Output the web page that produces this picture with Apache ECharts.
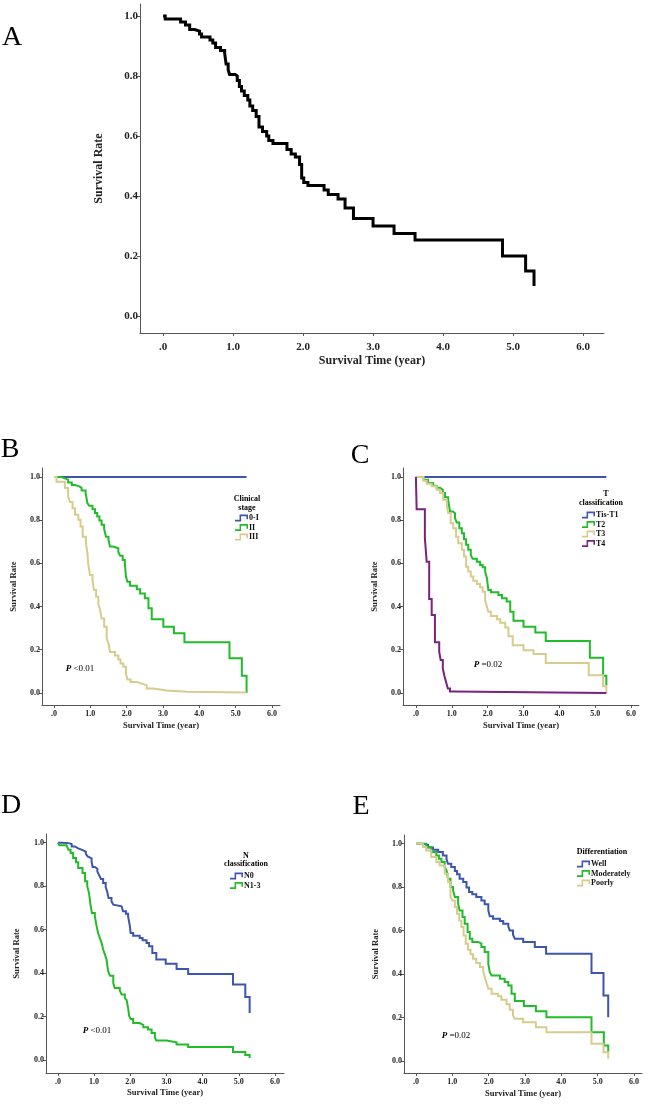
<!DOCTYPE html>
<html><head><meta charset="utf-8">
<script src="https://cdn.jsdelivr.net/npm/echarts@6/dist/echarts.min.js"></script>
<style>html,body{margin:0;padding:0;background:#fff}#c{width:650px;height:1105px}</style>
</head><body><div id="c"></div>
<script>
// ---------- tick labels ----------
const xTicks = [0, 1, 2, 3, 4, 5, 6];
const yTicks = [0, 0.2, 0.4, 0.6, 0.8, 1.0];

// ---------- Panel A: overall ----------
const aTime = [0, 0.03, 0.25, 0.32, 0.38, 0.45, 0.52, 0.55, 0.67, 0.71, 0.75, 0.82, 0.88, 0.9, 0.93, 0.95, 1.03, 1.06, 1.09, 1.12, 1.16, 1.21, 1.24, 1.28, 1.33, 1.37, 1.42, 1.48, 1.51, 1.57, 1.77, 1.83, 1.89, 1.95, 1.98, 2.01, 2.07, 2.3, 2.36, 2.5, 2.6, 2.72, 3.0, 3.3, 3.6, 4.85, 5.18, 5.3];
const aSurv = [1.0, 0.99, 0.98, 0.97, 0.955, 0.95, 0.94, 0.93, 0.92, 0.91, 0.895, 0.885, 0.875, 0.84, 0.82, 0.805, 0.80, 0.785, 0.765, 0.75, 0.735, 0.72, 0.70, 0.685, 0.665, 0.63, 0.615, 0.60, 0.585, 0.575, 0.555, 0.54, 0.53, 0.505, 0.46, 0.445, 0.435, 0.42, 0.405, 0.39, 0.36, 0.325, 0.30, 0.275, 0.253, 0.20, 0.15, 0.10];

// ---------- Panel B: clinical stage ----------
const bNames = ['0-I', 'II', 'III'];
const bStage1Time = [0, 5.3];
const bStage1Surv = [1, 1];
const bStage2Time = [0, 0.21, 0.30, 0.39, 0.49, 0.58, 0.70, 0.76, 0.87, 0.92, 0.97, 1.06, 1.13, 1.19, 1.25, 1.31, 1.38, 1.43, 1.50, 1.54, 1.63, 1.77, 1.82, 1.89, 1.95, 1.98, 2.02, 2.09, 2.28, 2.37, 2.50, 2.60, 2.69, 3.01, 3.30, 3.59, 4.83, 5.17, 5.30];
const bStage2Surv = [1, 0.994, 0.988, 0.975, 0.963, 0.957, 0.95, 0.938, 0.926, 0.879, 0.867, 0.851, 0.833, 0.817, 0.799, 0.779, 0.76, 0.724, 0.709, 0.678, 0.670, 0.653, 0.636, 0.616, 0.60, 0.539, 0.515, 0.497, 0.48, 0.461, 0.438, 0.392, 0.341, 0.307, 0.276, 0.235, 0.161, 0.08, 0.0];
const bStage3Time = [0, 0.07, 0.30, 0.39, 0.44, 0.51, 0.58, 0.67, 0.73, 0.79, 0.88, 0.92, 0.94, 0.99, 1.06, 1.10, 1.16, 1.22, 1.27, 1.31, 1.38, 1.45, 1.50, 1.54, 1.68, 1.77, 1.83, 1.91, 1.98, 2.02, 2.11, 2.28, 2.41, 2.55, 2.73, 3.10, 3.65, 5.30];
const bStage3Surv = [1, 0.978, 0.949, 0.91, 0.884, 0.856, 0.825, 0.802, 0.771, 0.724, 0.693, 0.647, 0.601, 0.546, 0.523, 0.477, 0.446, 0.412, 0.384, 0.345, 0.307, 0.252, 0.229, 0.19, 0.173, 0.155, 0.136, 0.121, 0.09, 0.062, 0.051, 0.043, 0.036, 0.02, 0.011, 0.005, 0.002, 0.0];

// ---------- Panel C: T classification ----------
const cNames = ['Tis-T1', 'T2', 'T3', 'T4'];
const cT1Time = [0, 5.31];
const cT1Surv = [1, 1];
const cT2Time = [0, 0.21, 0.34, 0.48, 0.58, 0.67, 0.75, 0.81, 0.90, 0.95, 1.03, 1.09, 1.14, 1.21, 1.28, 1.34, 1.40, 1.46, 1.53, 1.58, 1.70, 1.79, 1.86, 1.93, 1.98, 2.02, 2.09, 2.30, 2.40, 2.53, 2.63, 2.72, 3.00, 3.33, 3.62, 4.85, 5.22, 5.31];
const cT2Surv = [1, 0.988, 0.972, 0.96, 0.95, 0.941, 0.926, 0.907, 0.892, 0.841, 0.833, 0.81, 0.789, 0.763, 0.74, 0.712, 0.686, 0.663, 0.639, 0.621, 0.608, 0.593, 0.582, 0.562, 0.531, 0.477, 0.466, 0.454, 0.438, 0.423, 0.376, 0.334, 0.307, 0.28, 0.241, 0.163, 0.08, 0.036];
const cT3Time = [0, 0.21, 0.30, 0.44, 0.58, 0.67, 0.76, 0.86, 0.90, 0.97, 1.04, 1.12, 1.18, 1.28, 1.34, 1.40, 1.46, 1.53, 1.60, 1.70, 1.79, 1.86, 1.93, 1.98, 2.02, 2.09, 2.26, 2.35, 2.49, 2.58, 2.70, 3.00, 3.28, 3.62, 4.82, 5.22, 5.31];
const cT3Surv = [1, 0.983, 0.969, 0.957, 0.941, 0.926, 0.895, 0.872, 0.833, 0.786, 0.763, 0.724, 0.693, 0.663, 0.632, 0.585, 0.562, 0.539, 0.52, 0.505, 0.489, 0.469, 0.43, 0.399, 0.376, 0.356, 0.341, 0.325, 0.303, 0.263, 0.221, 0.198, 0.18, 0.139, 0.082, 0.031, 0.0];
const cT4Time = [0, 0.02, 0.25, 0.30, 0.37, 0.44, 0.53, 0.65, 0.69, 0.75, 0.79, 0.84, 0.89, 0.95, 1.04, 5.31];
const cT4Surv = [1, 0.851, 0.717, 0.608, 0.435, 0.361, 0.235, 0.19, 0.152, 0.113, 0.082, 0.051, 0.02, 0.006, 0.0, 0.0];

// ---------- Panel D: N classification ----------
const dNames = ['N0', 'N1-3'];
const dN0Time = [0, 0.10, 0.29, 0.38, 0.47, 0.56, 0.65, 0.77, 0.82, 0.86, 0.93, 0.96, 1.02, 1.09, 1.14, 1.19, 1.25, 1.32, 1.36, 1.40, 1.48, 1.53, 1.57, 1.76, 1.80, 1.88, 1.94, 1.99, 2.01, 2.08, 2.26, 2.34, 2.45, 2.52, 2.61, 2.72, 2.98, 3.28, 3.60, 4.84, 5.18, 5.30];
const dN0Surv = [1, 0.998, 0.994, 0.983, 0.974, 0.968, 0.959, 0.949, 0.937, 0.928, 0.913, 0.888, 0.880, 0.867, 0.850, 0.833, 0.814, 0.796, 0.776, 0.745, 0.730, 0.715, 0.707, 0.699, 0.684, 0.673, 0.661, 0.615, 0.584, 0.572, 0.561, 0.551, 0.538, 0.523, 0.492, 0.462, 0.443, 0.419, 0.396, 0.347, 0.29, 0.216];
const dN1Time = [0, 0.04, 0.24, 0.29, 0.35, 0.42, 0.50, 0.56, 0.68, 0.75, 0.81, 0.86, 0.90, 0.94, 1.02, 1.07, 1.11, 1.16, 1.21, 1.25, 1.30, 1.34, 1.39, 1.44, 1.53, 1.57, 1.71, 1.76, 1.85, 1.90, 1.94, 1.97, 2.01, 2.08, 2.26, 2.36, 2.49, 2.59, 2.68, 2.72, 3.00, 3.28, 3.60, 4.84, 5.18, 5.30];
const dN1Surv = [1, 0.988, 0.98, 0.968, 0.952, 0.929, 0.91, 0.883, 0.860, 0.822, 0.799, 0.768, 0.715, 0.676, 0.661, 0.615, 0.584, 0.561, 0.538, 0.508, 0.485, 0.465, 0.408, 0.388, 0.354, 0.331, 0.319, 0.301, 0.285, 0.275, 0.239, 0.201, 0.189, 0.170, 0.161, 0.150, 0.140, 0.124, 0.104, 0.090, 0.081, 0.071, 0.060, 0.037, 0.023, 0.009];

// ---------- Panel E: differentiation ----------
const eNames = ['Well', 'Moderately', 'Poorly'];
const eWellTime = [0, 0.19, 0.33, 0.47, 0.61, 0.74, 0.84, 0.88, 0.97, 1.07, 1.13, 1.20, 1.30, 1.39, 1.46, 1.55, 1.66, 1.80, 1.89, 1.99, 2.03, 2.12, 2.31, 2.40, 2.54, 2.58, 2.67, 2.72, 2.95, 3.27, 3.58, 4.83, 5.16, 5.29];
const eWellSurv = [1, 0.995, 0.982, 0.972, 0.962, 0.946, 0.929, 0.908, 0.893, 0.874, 0.859, 0.839, 0.824, 0.798, 0.778, 0.767, 0.755, 0.739, 0.721, 0.693, 0.666, 0.655, 0.644, 0.632, 0.620, 0.601, 0.581, 0.563, 0.548, 0.525, 0.494, 0.405, 0.302, 0.202];
const eModTime = [0, 0.28, 0.42, 0.56, 0.63, 0.70, 0.79, 0.84, 0.88, 0.95, 1.02, 1.07, 1.16, 1.20, 1.28, 1.34, 1.42, 1.48, 1.55, 1.71, 1.80, 1.89, 1.99, 2.03, 2.08, 2.31, 2.44, 2.54, 2.63, 2.72, 2.97, 3.30, 3.59, 4.83, 5.17, 5.29];
const eModSurv = [1, 0.985, 0.962, 0.946, 0.931, 0.916, 0.893, 0.877, 0.839, 0.801, 0.785, 0.755, 0.724, 0.693, 0.663, 0.632, 0.594, 0.563, 0.548, 0.540, 0.525, 0.502, 0.448, 0.409, 0.394, 0.379, 0.364, 0.348, 0.310, 0.276, 0.253, 0.229, 0.202, 0.133, 0.072, 0.041];
const ePoorTime = [0, 0.19, 0.28, 0.42, 0.56, 0.65, 0.79, 0.88, 0.95, 1.00, 1.07, 1.13, 1.19, 1.25, 1.31, 1.37, 1.43, 1.50, 1.57, 1.66, 1.76, 1.85, 1.89, 1.94, 1.99, 2.08, 2.26, 2.35, 2.49, 2.58, 2.67, 2.72, 2.95, 3.30, 3.59, 4.83, 5.16, 5.29];
const ePoorSurv = [1, 0.985, 0.969, 0.939, 0.916, 0.900, 0.862, 0.824, 0.755, 0.739, 0.709, 0.678, 0.647, 0.617, 0.578, 0.540, 0.512, 0.491, 0.471, 0.451, 0.433, 0.414, 0.387, 0.359, 0.333, 0.310, 0.298, 0.282, 0.261, 0.236, 0.210, 0.195, 0.179, 0.156, 0.133, 0.080, 0.041, 0.011];

// ---------- text ----------
const xTitle = 'Survival Time (year)';
const yTitle = 'Survival Rate';

// ---------- styling ----------
const FONT = '"Liberation Serif", "Times New Roman", serif';
const BLUE = '#3d55ad', GREEN = '#22bb2a', TAN = '#d6cc8e', PURPLE = '#7b2180', AXIS = '#555';
const stepIcon = 'path://M0,8 L7,8 L7,0 L20,0 L20,7 L17.6,7 L17.6,2.4 L9.4,2.4 L9.4,10.4 L0,10.4 Z';

const pair = (t, s) => t.map((v, i) => [v, s[i]]);

const panels = [
  {grid: {left: 140, top: 4, width: 464, height: 329}, xMin: -0.33, xMax: 6.3, yMin: -0.057, yMax: 1.04,
   tick: 11, title: 12, xGap: 22, yGap: 35, lw: 3,
   series: [{name: 'Overall', t: aTime, s: aSurv, c: '#000'}]},
  {grid: {left: 42, top: 468, width: 238, height: 237}, xMin: -0.33, xMax: 6.22, yMin: -0.056, yMax: 1.042,
   tick: 8, title: 8.6, xGap: 16, yGap: 24, lw: 2,
   series: [{name: bNames[0], t: bStage1Time, s: bStage1Surv, c: BLUE},
            {name: bNames[1], t: bStage2Time, s: bStage2Surv, c: GREEN},
            {name: bNames[2], t: bStage3Time, s: bStage3Surv, c: TAN}]},
  {grid: {left: 403, top: 468, width: 236, height: 237}, xMin: -0.36, xMax: 6.22, yMin: -0.056, yMax: 1.042,
   tick: 8, title: 8.6, xGap: 16, yGap: 24, lw: 2,
   series: [{name: cNames[0], t: cT1Time, s: cT1Surv, c: BLUE},
            {name: cNames[1], t: cT2Time, s: cT2Surv, c: GREEN},
            {name: cNames[2], t: cT3Time, s: cT3Surv, c: TAN},
            {name: cNames[3], t: cT4Time, s: cT4Surv, c: PURPLE}]},
  {grid: {left: 46, top: 834, width: 238, height: 239}, xMin: -0.33, xMax: 6.25, yMin: -0.06, yMax: 1.04,
   tick: 8, title: 8.6, xGap: 15, yGap: 25, lw: 2,
   series: [{name: dNames[0], t: dN0Time, s: dN0Surv, c: BLUE},
            {name: dNames[1], t: dN1Time, s: dN1Surv, c: GREEN}]},
  {grid: {left: 404, top: 835, width: 238, height: 238}, xMin: -0.33, xMax: 6.22, yMin: -0.055, yMax: 1.04,
   tick: 8, title: 8.6, xGap: 16, yGap: 24, lw: 2,
   series: [{name: eNames[0], t: eWellTime, s: eWellSurv, c: BLUE},
            {name: eNames[1], t: eModTime, s: eModSurv, c: GREEN},
            {name: eNames[2], t: ePoorTime, s: ePoorSurv, c: TAN}]}
];

const grids = [], xAxes = [], yAxes = [], series = [];
panels.forEach((p, i) => {
  grids.push(Object.assign({containLabel: false}, p.grid));
  xAxes.push({
    type: 'value', gridIndex: i, min: p.xMin, max: p.xMax,
    axisLine: {show: true, onZero: false, lineStyle: {color: AXIS, width: 1}},
    splitLine: {show: false},
    axisTick: {show: true, customValues: xTicks, length: 3, lineStyle: {color: AXIS}},
    axisLabel: {customValues: xTicks, formatter: v => (v === 0 ? '.0' : v.toFixed(1)),
      fontFamily: FONT, fontWeight: 'bold', fontSize: p.tick, color: '#222', margin: i === 0 ? 9 : 5},
    name: xTitle, nameLocation: 'middle', nameGap: p.xGap,
    nameTextStyle: {fontFamily: FONT, fontWeight: 'bold', fontSize: p.title, color: '#222'}
  });
  yAxes.push({
    type: 'value', gridIndex: i, min: p.yMin, max: p.yMax,
    axisLine: {show: true, onZero: false, lineStyle: {color: AXIS, width: 1}},
    splitLine: {show: false},
    axisTick: {show: true, customValues: yTicks, length: 3, lineStyle: {color: AXIS}},
    axisLabel: {customValues: yTicks, formatter: v => v.toFixed(1),
      fontFamily: FONT, fontWeight: 'bold', fontSize: p.tick, color: '#222', margin: 2},
    name: yTitle, nameLocation: 'middle', nameGap: p.yGap, nameRotate: 90,
    nameTextStyle: {fontFamily: FONT, fontWeight: 'bold', fontSize: p.title, color: '#222'}
  });
  p.series.forEach(s => {
    series.push({
      type: 'line', name: s.name, xAxisIndex: i, yAxisIndex: i, step: 'end',
      data: pair(s.t, s.s), showSymbol: false, symbol: 'none', silent: true,
      lineStyle: {color: s.c, width: p.lw, join: 'miter', cap: 'butt'},
      itemStyle: {color: s.c}, emphasis: {disabled: true}
    });
  });
});

const legendBase = {
  orient: 'vertical', itemWidth: 13, itemHeight: 7, itemGap: 1.5, icon: stepIcon,
  selectedMode: false, padding: 0,
  itemStyle: {borderWidth: 0},
  textStyle: {fontFamily: FONT, fontWeight: 'bold', fontSize: 8, color: '#111', padding: [0, 0, 0, -4]}
};
const legends = [
  Object.assign({}, legendBase, {data: bNames, left: 235, top: 514}),
  Object.assign({}, legendBase, {data: cNames, left: 582, top: 511}),
  Object.assign({}, legendBase, {data: dNames, left: 230, top: 872}),
  Object.assign({}, legendBase, {data: eNames, left: 577, top: 860})
];

const txt = (x, y, text, font, extra) => ({type: 'text', x: x, y: y, silent: true,
  style: Object.assign({text: text, font: font, fill: '#000', align: 'center', verticalAlign: 'middle'}, extra || {})});
const letterFont = '28px "Liberation Serif"';
const smallBold = 'bold 8px "Liberation Serif"';
const pRich = {i: {fontStyle: 'italic', fontWeight: 'bold', fontFamily: 'Liberation Serif', fontSize: 9}};
const pFont = '9px "Liberation Serif"';

const graphics = [
  txt(12, 38, 'A', letterFont),
  txt(10, 450, 'B', letterFont),
  txt(360, 456, 'C', letterFont),
  txt(11, 806, 'D', letterFont),
  txt(361, 807, 'E', letterFont),
  txt(247, 499, 'Clinical', smallBold),
  txt(247, 508, 'stage', smallBold),
  txt(606, 494, 'T', smallBold),
  txt(601, 503, 'classification', smallBold),
  txt(246, 856, 'N', smallBold),
  txt(246, 864, 'classification', smallBold),
  txt(602, 852, 'Differentiation', smallBold),
  txt(80, 669, '{i|P} <0.01', pFont, {rich: pRich}),
  txt(488, 665, '{i|P} =0.02', pFont, {rich: pRich}),
  txt(97, 1031, '{i|P} <0.01', pFont, {rich: pRich}),
  txt(456, 1036, '{i|P} =0.02', pFont, {rich: pRich})
];

const chart = echarts.init(document.getElementById('c'), null, {renderer: 'canvas'});
chart.setOption({
  animation: false,
  backgroundColor: '#fff',
  grid: grids, xAxis: xAxes, yAxis: yAxes, series: series,
  legend: legends, graphic: graphics, tooltip: {show: false}
});
</script></body></html>
